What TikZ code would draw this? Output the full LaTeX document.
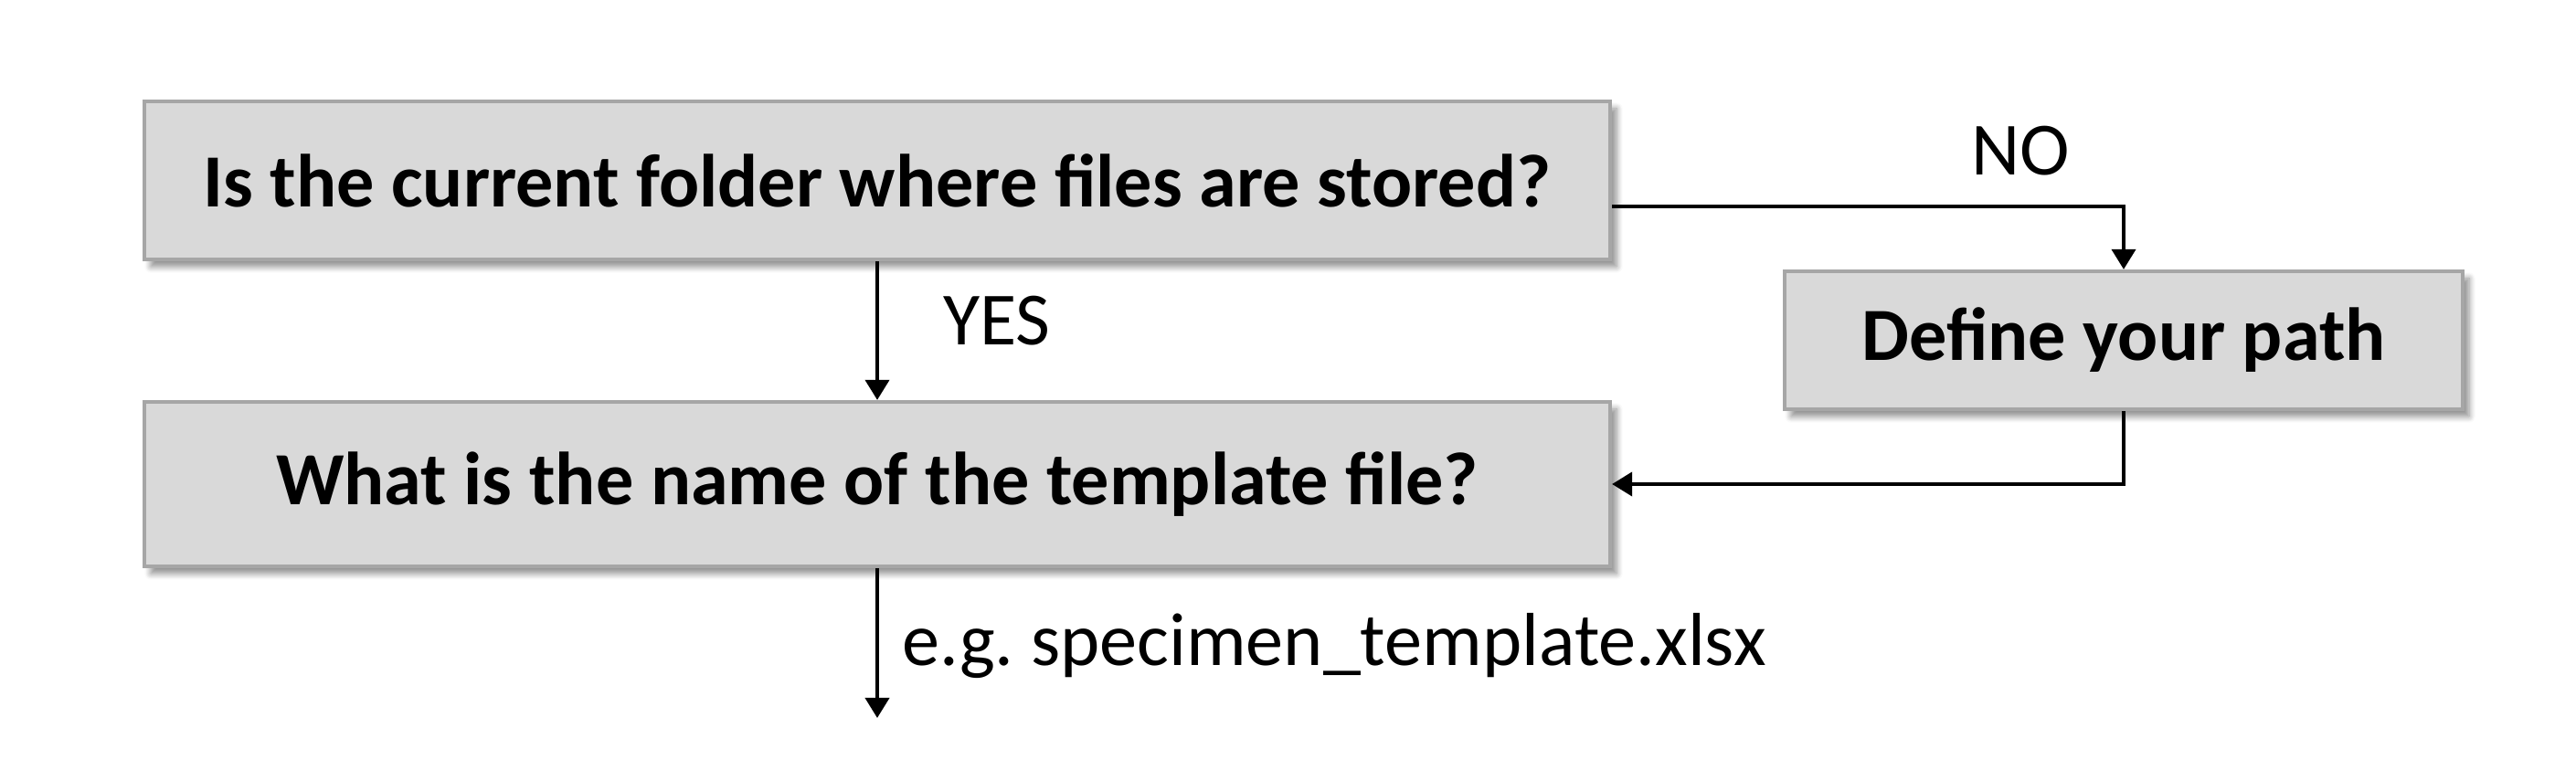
\documentclass[tikz,border=0pt]{standalone}
\usepackage{fontspec}
\setmainfont{Carlito}
\usetikzlibrary{positioning,arrows.meta,shadows.blur}
\tikzset{
    qbox/.style={draw=black!35, line width=1.2pt, fill=black!15,
        font=\bfseries\fontsize{23.4}{28}\selectfont, inner sep=0pt,
        blur shadow={shadow xshift=0.07cm, shadow yshift=-0.08cm, shadow blur steps=6, shadow opacity=45}},
    flow/.style={line width=1.1pt, -{Triangle[length=0.22cm,width=0.26cm]}},
    lbl/.style={font=\fontsize{23.4}{28}\selectfont, inner sep=0pt}
}
\frenchspacing
\begin{document}
\begin{tikzpicture}
\useasboundingbox (0,0) rectangle (28.19,8.55);
\node[qbox, minimum width=16.04cm, minimum height=1.73cm] (folder) at (9.60,6.575) {Is the current folder where files are stored?};
\node[qbox, minimum width=16.04cm, minimum height=1.80cm] (template) at (9.60,3.25) {What is the name of the template file?};
\node[qbox, minimum width=7.42cm, minimum height=1.51cm] (path) at (23.24,4.825) {Define your path};
\coordinate (noturn) at (path.north |- 0,6.29);
\coordinate (out) at (9.60,0.69);
% NO branch
\draw[flow] (folder.east |- noturn) -- (noturn) -- (path.north);
\node[lbl] (no) at (22.11,6.90) {NO};
% YES branch
\draw[flow] (folder.south) -- (template.north);
\node[lbl] (yes) at (10.91,5.04) {YES};
% back from path
\draw[flow] (path.south) |- (template.east);
% output
\draw[flow] (template.south) -- (out);
\node[lbl, anchor=west] (eg) at (9.87,1.48) {e.g. specimen\_template.xlsx};
\end{tikzpicture}
\end{document}
